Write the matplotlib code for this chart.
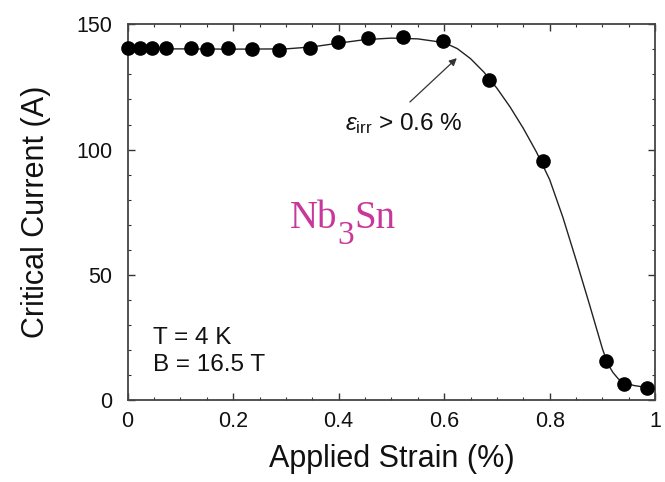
import matplotlib
matplotlib.use('Agg')
import matplotlib.pyplot as plt
from matplotlib.ticker import MultipleLocator, FuncFormatter

plt.rcParams['font.family'] = 'Liberation Sans'
plt.rcParams['mathtext.fontset'] = 'custom'
plt.rcParams['mathtext.rm'] = 'Liberation Sans'
plt.rcParams['mathtext.it'] = 'Liberation Sans:italic'

# measured critical current vs applied strain (T = 4 K, B = 16.5 T)
strain = [0.0, 0.024, 0.047, 0.072, 0.12, 0.15, 0.19, 0.235, 0.287, 0.345,
          0.399, 0.456, 0.522, 0.598, 0.685, 0.788, 0.906, 0.941, 0.985]
current = [140.4, 140.4, 140.6, 140.4, 140.4, 140.3, 140.5, 140.2, 139.6, 140.6,
           143.0, 144.6, 145.0, 143.4, 127.7, 95.5, 15.6, 6.4, 4.9]

# guide-to-the-eye curve
fit_strain = [0.0, 0.1, 0.2, 0.3, 0.35, 0.4, 0.45, 0.5, 0.55, 0.6, 0.625,
              0.65, 0.675, 0.7, 0.725, 0.75, 0.775, 0.8, 0.825, 0.85, 0.875,
              0.9, 0.91, 0.92, 0.93, 0.94, 0.96, 0.985]
fit_current = [140.2, 140.2, 140.1, 140.2, 141.0, 142.5, 143.9, 144.5, 144.2,
               142.7, 140.3, 136.3, 131.0, 124.5, 117.0, 108.5, 99.0, 88.0,
               73.0, 56.0, 38.5, 20.5, 14.5, 11.0, 8.5, 7.0, 5.8, 5.0]

magenta = '#c8379b'

fig = plt.figure(figsize=(6.65, 4.82), dpi=100)
ax = fig.add_axes([0.192, 0.170, 0.7932, 0.7795])

ax.plot(fit_strain, fit_current, color='#222222', lw=1.0, zorder=2)
ax.plot(strain, current, 'o', color='black', ms=9.5, zorder=3, clip_on=False)

ax.set_xlim(0, 1)
ax.set_ylim(0, 150)
ax.xaxis.set_major_locator(MultipleLocator(0.2))
ax.xaxis.set_minor_locator(MultipleLocator(0.05))
ax.yaxis.set_major_locator(MultipleLocator(50))
ax.yaxis.set_minor_locator(MultipleLocator(10))
ax.xaxis.set_major_formatter(FuncFormatter(lambda v, p: '%g' % v))

ax.tick_params(which='both', direction='in', top=True, right=True,
               colors='#333333', labelcolor='#111111', labelsize=15.5)
ax.tick_params(which='major', length=5, width=1.0)
ax.tick_params(which='minor', length=2.5, width=0.8)
ax.tick_params(axis='x', pad=8)
ax.tick_params(axis='y', pad=11)
for s in ax.spines.values():
    s.set_linewidth(1.3)
    s.set_color('#444444')

ax.set_xlabel('Applied Strain (%)', fontsize=22, color='#111111', va='center')
ax.set_ylabel('Critical Current (A)', fontsize=22, color='#111111', va='center')
ax.xaxis.set_label_coords(0.5, -0.157)
ax.yaxis.set_label_coords(-0.174, 0.5)

ax.text(0.048, 0.165, 'T = 4 K', transform=ax.transAxes, fontsize=17.5,
        color='#111111', ha='left', va='center')
ax.text(0.048, 0.093, 'B = 16.5 T', transform=ax.transAxes, fontsize=17.5,
        color='#111111', ha='left', va='center')

# irreversible strain marker
ax.annotate('', xy=(0.624, 136.5), xytext=(0.535, 119),
            arrowprops=dict(arrowstyle='-|>', color='#333333', lw=0.9,
                            mutation_scale=11, shrinkA=0, shrinkB=0))
ax.text(0.412, 107.8, r'$\varepsilon_{\mathrm{irr}}$ > 0.6 %', fontsize=17.5,
        color='#111111', ha='left', va='baseline')

# Nb3Sn label, subscript kept close to full size
nb = ax.text(0.3075, 68.7, 'Nb', family='Liberation Serif', fontsize=28,
             color=magenta, va='baseline')
three = ax.annotate('3', xy=(1, 0), xycoords=nb, xytext=(0, -5.0),
                    textcoords='offset points', family='Liberation Serif',
                    fontsize=24, color=magenta, ha='left', va='baseline')
ax.annotate('Sn', xy=(1, 0), xycoords=(three, nb), family='Liberation Serif',
            fontsize=28, color=magenta, ha='left', va='bottom')

fig.savefig('out.png', dpi=100)
